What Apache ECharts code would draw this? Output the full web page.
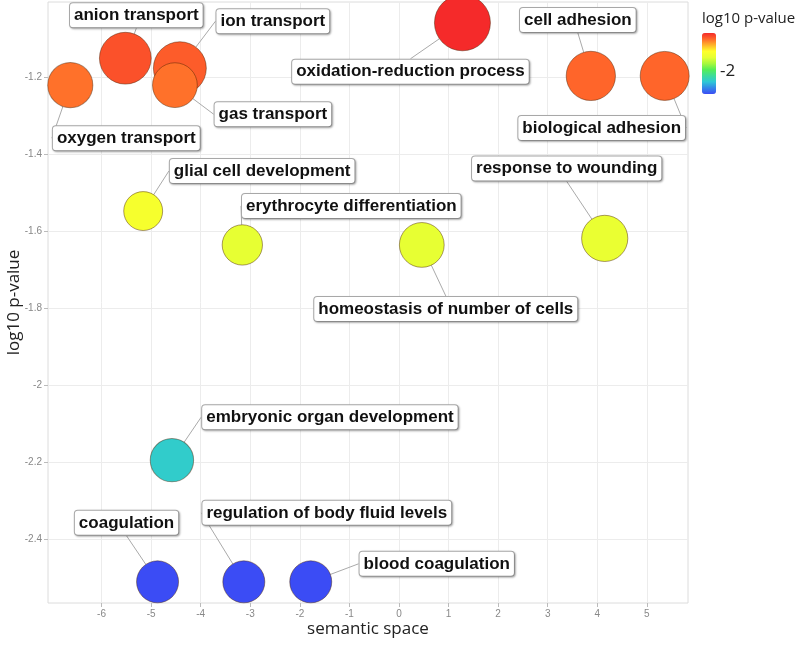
<!DOCTYPE html>
<html>
<head>
<meta charset="utf-8">
<script src="https://cdn.jsdelivr.net/npm/echarts@6/dist/echarts.min.js"></script>
<style>
html, body { margin: 0; padding: 0; background: #fff; }
#main { width: 800px; height: 646px; }
</style>
</head>
<body>
<div id="main"></div>
<script>
// GO terms (REVIGO style semantic space plot)
var terms = ['anion transport', 'ion transport', 'gas transport', 'oxygen transport',
    'oxidation-reduction process', 'cell adhesion', 'biological adhesion',
    'glial cell development', 'erythrocyte differentiation', 'homeostasis of number of cells',
    'response to wounding', 'embryonic organ development', 'coagulation',
    'regulation of body fluid levels', 'blood coagulation'];
var semX = [-5.52, -4.42, -4.52, -6.63, 1.28, 3.87, 5.36, -5.16, -3.16, 0.46, 4.15, -4.58, -4.87, -3.13, -1.78];
var logPval = [-1.151, -1.177, -1.221, -1.221, -1.059, -1.197, -1.197, -1.548, -1.636, -1.636, -1.619, -2.195, -2.511, -2.511, -2.511];
var logSize = [3.7, 3.78, 3.2, 3.22, 4.0, 3.52, 3.5, 2.78, 2.88, 3.2, 3.3, 3.1, 3.0, 3.0, 3.0];

var xTicks = [-6, -5, -4, -3, -2, -1, 0, 1, 2, 3, 4, 5];
var yTicks = [-2.4, -2.2, -2, -1.8, -1.6, -1.4, -1.2];
var legendTicks = [-2];

// where each label box sits relative to its bubble (px)
var labelOffsets = [[11, -43], [93, -47], [98, 29], [56, 53], [-52, 49], [-13, -56], [-63, 52],
    [119, -40], [109, -39], [24, 64], [-38, -70], [158, -43], [-31, -59], [83, -69], [126, -18]];

var rainbow = ['#3b4cf5', '#3488e8', '#2ec8d6', '#3ddc9a', '#55ee55', '#a8f83c',
    '#e6ff33', '#ffff2a', '#ffb52a', '#ff682a', '#f52a2a'];

var points = [];
for (var i = 0; i < terms.length; i++) {
    points.push({ name: terms[i], value: [semX[i], logPval[i], logSize[i]] });
}
var cMin = Math.min.apply(null, logPval);
var cMax = Math.max.apply(null, logPval);

var chart = echarts.init(document.getElementById('main'));

var barTop = 33, barH = 61;
var legendText = legendTicks.map(function (v) {
    return {
        type: 'text',
        left: 720,
        top: barTop + (cMax - v) / (cMax - cMin) * barH - 10,
        style: { text: String(v), fontSize: 17, fill: '#222', fontFamily: 'Open Sans' }
    };
});

option = {
    animation: false,
    backgroundColor: '#fff',
    title: {
        text: 'log10 p-value',
        left: 702,
        top: 11,
        padding: 0,
        textStyle: { fontSize: 15, fontWeight: 'normal', color: '#222', fontFamily: 'Open Sans' }
    },
    grid: {
        left: 48, right: 112, top: 2, bottom: 43,
        outerBoundsMode: 'none',
        containLabel: false,
        show: true, borderColor: '#dcdcdc', borderWidth: 1
    },
    xAxis: {
        type: 'value',
        min: -7.08, max: 5.83,
        name: 'semantic space',
        nameLocation: 'middle',
        nameGap: 18,
        nameMoveOverlap: false,
        nameTextStyle: { fontSize: 17, color: '#222', fontFamily: 'Open Sans' },
        axisLine: { show: false, onZero: false },
        axisTick: { show: true, customValues: xTicks, length: 4, lineStyle: { color: '#bbb' } },
        axisLabel: { customValues: xTicks, color: '#888', fontSize: 10, margin: 6 },
        splitLine: { show: true, lineStyle: { color: '#ececec' } }
    },
    yAxis: {
        type: 'value',
        min: -2.566, max: -1.005,
        name: 'log10 p-value',
        nameLocation: 'middle',
        nameGap: 25,
        nameMoveOverlap: false,
        nameTextStyle: { fontSize: 17, color: '#222', fontFamily: 'Open Sans' },
        axisLine: { show: false, onZero: false },
        axisTick: { show: true, customValues: yTicks, length: 4, lineStyle: { color: '#bbb' } },
        axisLabel: { customValues: yTicks, color: '#888', fontSize: 10, margin: 6 },
        splitLine: { show: true, lineStyle: { color: '#ececec' } }
    },
    visualMap: {
        type: 'continuous',
        dimension: 1,
        min: cMin, max: cMax,
        calculable: false,
        orient: 'vertical',
        left: 702, top: barTop,
        itemWidth: 14, itemHeight: barH,
        padding: 0,
        text: null,
        inRange: { color: rainbow }
    },
    graphic: legendText,
    series: [{
        type: 'scatter',
        data: points,
        symbolSize: function (v) { return v[2] * 14; },
        itemStyle: { opacity: 1, borderColor: 'rgba(70,30,0,0.45)', borderWidth: 1 },
        label: {
            show: true,
            position: 'inside',
            formatter: '{b}',
            color: '#111',
            fontSize: 17,
            lineHeight: 18,
            fontWeight: 'bold',
            fontFamily: 'Liberation Sans',
            backgroundColor: '#fff',
            borderColor: '#aaa',
            borderWidth: 1,
            borderRadius: 3,
            padding: [3, 4, 3, 4],
            shadowColor: 'rgba(0,0,0,0.25)',
            shadowBlur: 2,
            shadowOffsetX: 1,
            shadowOffsetY: 1
        },
        labelLine: { show: true, lineStyle: { color: '#aaa', width: 1 } },
        labelLayout: function (p) {
            var o = labelOffsets[p.dataIndex];
            return { dx: o[0], dy: o[1] };
        }
    }]
};
chart.setOption(option);
</script>
</body>
</html>
